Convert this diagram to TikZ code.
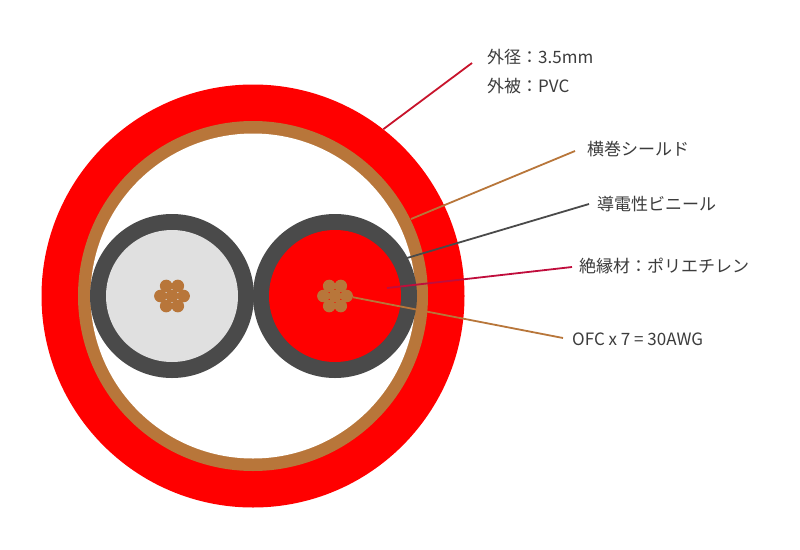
\documentclass[tikz,border=0pt]{standalone}
\usepackage{fontspec}
\setmainfont{Noto Sans CJK JP}
\usepackage{xcolor}
\definecolor{cablered}{HTML}{FF0000}
\definecolor{shieldbrown}{HTML}{B8763A}
\definecolor{vinylgray}{HTML}{4A4A4A}
\definecolor{coregray}{HTML}{E0E0E0}
\definecolor{crimson}{HTML}{C00D3C}
\definecolor{jacketline}{HTML}{C8142C}
\definecolor{labelgray}{HTML}{3C3C3C}
\tikzstyle{disc} = [circle, inner sep=0, draw=none]
\tikzstyle{strand} = [disc, fill=shieldbrown, minimum size=12.6pt]
\tikzstyle{leader} = [line width=1.8pt]
\tikzstyle{partlabel} = [inner xsep=0, inner ysep=0, anchor=west, text=labelgray, font=\fontsize{17}{20}\selectfont]
\begin{document}
\begin{tikzpicture}[x=1pt, y=-1pt]
\useasboundingbox (0,0) rectangle (800,549);
\fill[white] (0,0) rectangle (800,549);
% sheath and shield
\node [disc, fill=cablered, minimum size=423pt] (jacket) at (253,296) {};
\node [disc, fill=shieldbrown, minimum size=350pt] (shield) at (253,296) {};
\node [disc, fill=white, minimum size=325pt] (hollow) at (253,296) {};
% the two conductors
\node [disc, fill=vinylgray, minimum size=164pt] (lvinyl) at (172,296) {};
\node [disc, fill=coregray, minimum size=132pt] (lcore) at (172,296) {};
\node [disc, fill=vinylgray, minimum size=164pt] (rvinyl) at (335,296) {};
\node [disc, fill=cablered, minimum size=132pt] (rcore) at (335,296) {};
\foreach \c in {lcore,rcore}{
    \node [strand] (\c mid) at (\c) {};
    \foreach \a in {0,60,...,300}
        \node [strand] (\c\a) at ([shift={(\a:11.6)}]\c) {};
}
% labels
\node [partlabel] (diameter) at (487,57) {外径：3.5mm};
\node [partlabel] (sheath) at (487,86) {外被：PVC};
\node [partlabel] (shieldtext) at (587,149) {横巻シールド};
\node [partlabel] (vinyltext) at (597,204) {導電性ビニール};
\node [partlabel] (insulation) at (579,266) {絶縁材：ポリエチレン};
\node [partlabel] (conductor) at (572,339) {OFC x 7 = 30AWG};
% line ends
\coordinate (jackettip) at (472,63);
\coordinate (shieldtip) at (575,151);
\coordinate (shieldfoot) at (411,219);
\coordinate (vinyltip) at (589,204);
\coordinate (vinylfoot) at (407,258);
\coordinate (insultip) at (572,267);
\coordinate (insulfoot) at (387,288);
\coordinate (conductortip) at (563,338);
\draw [leader, jacketline] (jacket.52) -- (jackettip);
\draw [leader, shieldbrown] (shieldfoot) -- (shieldtip);
\draw [leader, vinylgray] (vinylfoot) -- (vinyltip);
\draw [leader, crimson] (insulfoot) -- (insultip);
\draw [leader, shieldbrown] (rcore0) -- (conductortip);
\end{tikzpicture}
\end{document}
